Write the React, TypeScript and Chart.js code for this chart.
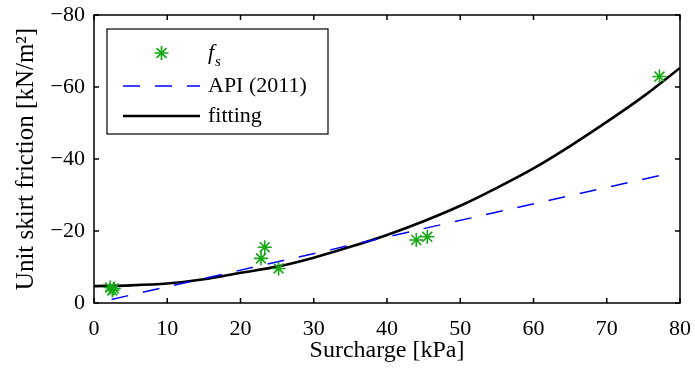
import React, { useEffect, useRef } from 'react';
import { Chart, registerables } from 'chart.js';

Chart.register(...registerables);

// Measured unit skirt friction f_s
const fsX = [2.2, 2.5, 2.7, 22.8, 23.3, 25.2, 44.0, 45.5, 77.2];
const fsY = [-4.3, -3.5, -4.0, -12.4, -15.5, -9.6, -17.5, -18.4, -62.9];

// API (2011) prediction
const apiX = [2.4, 23.0, 44.0, 77.2];
const apiY = [-1.0, -10.5, -20.2, -35.4];

// Fitting curve
const fitX = [0, 5, 10, 15, 20, 25, 30, 35, 40, 45, 50, 55, 60, 65, 70, 75, 80];
const fitY = [-4.7, -4.9, -5.4, -6.6, -8.4, -10.1, -12.6, -15.6, -18.9, -22.7, -27.0, -32.0, -37.4, -43.6, -50.3, -57.4, -65.3];

const xTicks = [0, 10, 20, 30, 40, 50, 60, 70, 80];
const yTicks = [0, -20, -40, -60, -80];

const seriesNames = ['f', 'API (2011)', 'fitting'];

const FONT = 'Liberation Serif, Times New Roman, serif';
const GREEN = '#14a814';
const BLUE = '#0000ff';

const toPts = (xs: number[], ys: number[]) => xs.map((x, i) => ({ x, y: ys[i] }));
const fmt = (v: number) => (v < 0 ? '\u2212' + Math.abs(v) : String(v));

function drawStar(ctx: CanvasRenderingContext2D, cx: number, cy: number, r: number) {
  const d = r * Math.SQRT1_2;
  ctx.beginPath();
  ctx.moveTo(cx - r, cy); ctx.lineTo(cx + r, cy);
  ctx.moveTo(cx, cy - r); ctx.lineTo(cx, cy + r);
  ctx.moveTo(cx - d, cy - d); ctx.lineTo(cx + d, cy + d);
  ctx.moveTo(cx - d, cy + d); ctx.lineTo(cx + d, cy - d);
  ctx.stroke();
}

const framePlugin = {
  id: 'frameAndLegend',
  afterDraw(chart: any) {
    const { ctx, chartArea } = chart;
    const { left, right, top, bottom } = chartArea;
    const xs = chart.scales.x;
    const ys = chart.scales.y;
    ctx.save();
    // frame
    ctx.strokeStyle = '#000';
    ctx.lineWidth = 1.5;
    ctx.strokeRect(left, top, right - left, bottom - top);
    // inward ticks on all sides
    const tl = 5;
    ctx.beginPath();
    xTicks.forEach((v) => {
      const px = xs.getPixelForValue(v);
      ctx.moveTo(px, bottom); ctx.lineTo(px, bottom - tl);
      ctx.moveTo(px, top); ctx.lineTo(px, top + tl);
    });
    yTicks.forEach((v) => {
      const py = ys.getPixelForValue(v);
      ctx.moveTo(left, py); ctx.lineTo(left + tl, py);
      ctx.moveTo(right, py); ctx.lineTo(right - tl, py);
    });
    ctx.stroke();

    // legend
    const bx = left + 13;
    const by = top + 14;
    const bw = 221;
    const bh = 105;
    ctx.fillStyle = '#fff';
    ctx.fillRect(bx, by, bw, bh);
    ctx.lineWidth = 1.2;
    ctx.strokeStyle = '#000';
    ctx.strokeRect(bx, by, bw, bh);

    const lx0 = bx + 16;
    const lx1 = bx + 93;
    const tx = bx + 101;
    const rows = [by + 24, by + 57, by + 87];

    // row 1: star + f_s
    ctx.strokeStyle = GREEN;
    ctx.lineWidth = 1.7;
    drawStar(ctx, (lx0 + lx1) / 2, rows[0], 7);
    ctx.fillStyle = '#000';
    ctx.textBaseline = 'middle';
    ctx.textAlign = 'left';
    ctx.font = `italic 22px ${FONT}`;
    ctx.fillText(seriesNames[0], tx, rows[0]);
    const fw = ctx.measureText(seriesNames[0]).width;
    ctx.font = `italic 15px ${FONT}`;
    ctx.fillText('s', tx + fw + 1, rows[0] + 9);

    // row 2: dashed
    ctx.strokeStyle = BLUE;
    ctx.lineWidth = 1.5;
    ctx.setLineDash([17, 15]);
    ctx.beginPath();
    ctx.moveTo(lx0, rows[1]); ctx.lineTo(lx1, rows[1]);
    ctx.stroke();
    ctx.setLineDash([]);
    ctx.font = `22px ${FONT}`;
    ctx.fillText(seriesNames[1], tx, rows[1]);

    // row 3: solid
    ctx.strokeStyle = '#000';
    ctx.lineWidth = 2.5;
    ctx.beginPath();
    ctx.moveTo(lx0, rows[2]); ctx.lineTo(lx1, rows[2]);
    ctx.stroke();
    ctx.fillText(seriesNames[2], tx, rows[2]);
    ctx.restore();
  },
};

export default function App() {
  const ref = useRef<HTMLCanvasElement>(null);
  useEffect(() => {
    if (!ref.current) return;
    const chart = new Chart(ref.current, {
      type: 'scatter',
      data: {
        datasets: [
          {
            label: 'fitting',
            data: toPts(fitX, fitY),
            showLine: true,
            borderColor: '#000',
            borderWidth: 2.6,
            pointRadius: 0,
            tension: 0.3,
            order: 3,
          } as any,
          {
            label: 'API (2011)',
            data: toPts(apiX, apiY),
            showLine: true,
            borderColor: BLUE,
            borderWidth: 1.5,
            borderDash: [17, 15],
            pointRadius: 0,
            order: 2,
          } as any,
          {
            label: 'fs',
            data: toPts(fsX, fsY),
            showLine: false,
            pointStyle: 'star',
            pointRadius: 7,
            borderColor: GREEN,
            backgroundColor: GREEN,
            borderWidth: 1.6,
            order: 1,
          } as any,
        ],
      },
      options: {
        responsive: false,
        animation: false,
        events: [],
        layout: { padding: { top: 15, right: 15, left: 0, bottom: 0 } },
        plugins: { legend: { display: false }, tooltip: { enabled: false } },
        scales: {
          x: {
            type: 'linear',
            min: 0,
            max: 80,
            afterBuildTicks: (s: any) => { s.ticks = xTicks.map((v) => ({ value: v })); },
            afterFit: (s: any) => { s.height = 68; s.paddingLeft = 0; s.paddingRight = 0; },
            grid: { display: false, drawTicks: false },
            border: { display: false },
            ticks: { color: '#000', font: { family: FONT, size: 22 }, padding: 13, callback: (v: any) => fmt(Number(v)) },
            title: { display: true, text: 'Surcharge [kPa]', color: '#000', font: { family: FONT, size: 24 }, padding: { top: 0, bottom: 6 } },
          },
          y: {
            type: 'linear',
            min: -80,
            max: 0,
            reverse: true,
            afterBuildTicks: (s: any) => { s.ticks = yTicks.map((v) => ({ value: v })); },
            afterFit: (s: any) => { s.width = 94; s.paddingTop = 0; s.paddingBottom = 0; },
            grid: { display: false, drawTicks: false },
            border: { display: false },
            ticks: { color: '#000', font: { family: FONT, size: 22 }, padding: 9, callback: (v: any) => fmt(Number(v)) },
            title: { display: true, text: 'Unit skirt friction [kN/m\u00B2]', color: '#000', font: { family: FONT, size: 25 }, padding: { top: 11, bottom: 0 } },
          },
        },
      },
      plugins: [framePlugin],
    } as any);
    return () => chart.destroy();
  }, []);
  return (
    <div style={{ position: 'fixed', left: 0, top: 0, width: 695, height: 371, background: '#fff' }}>
      <canvas ref={ref} width={695} height={371} style={{ width: 695, height: 371, display: 'block' }} />
    </div>
  );
}
